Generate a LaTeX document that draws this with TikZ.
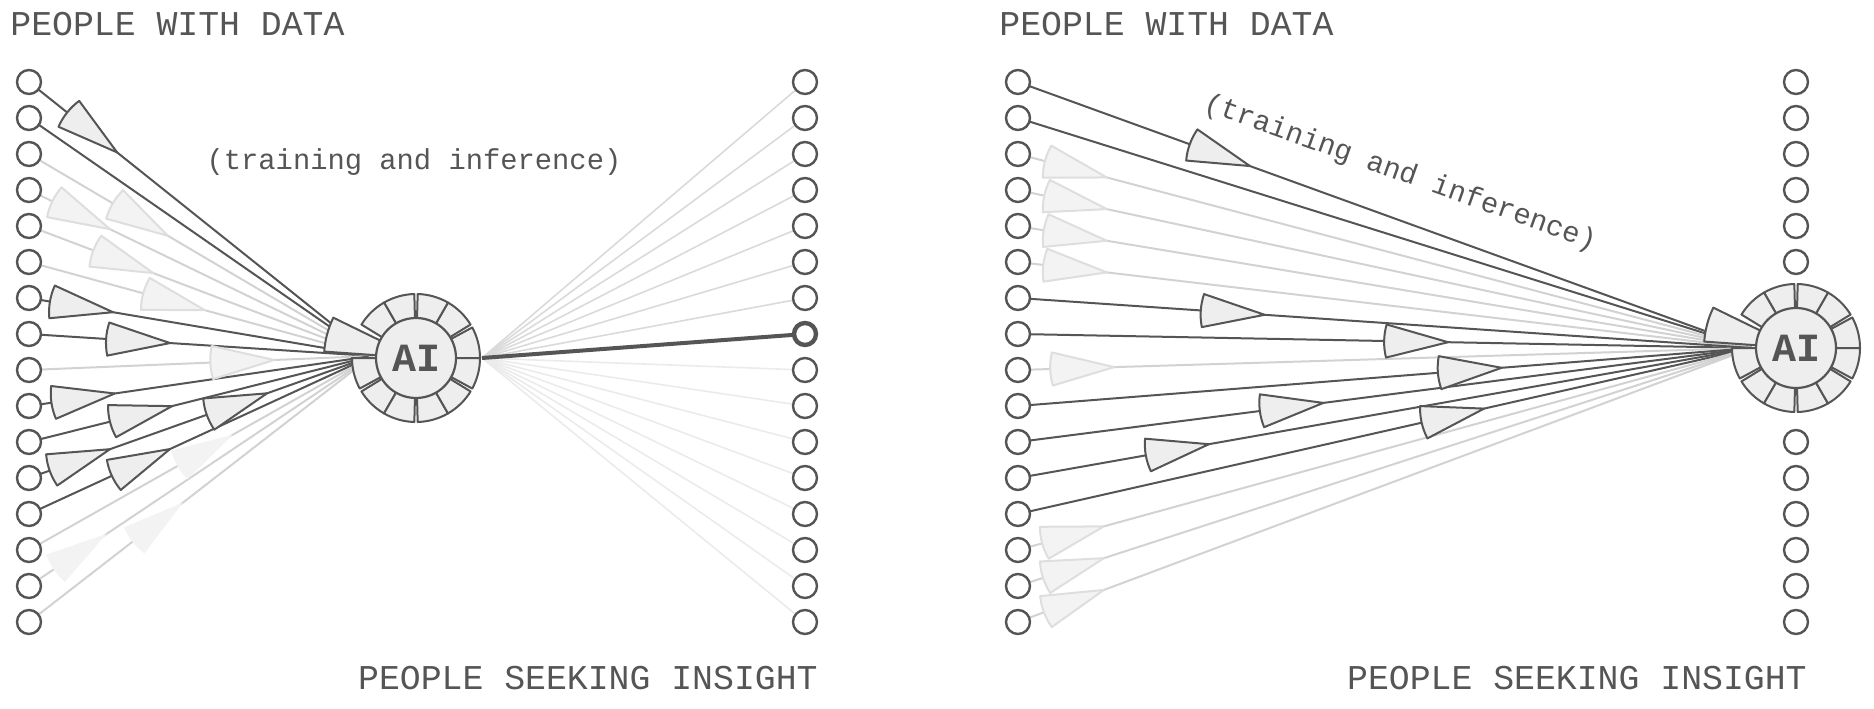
\documentclass[tikz,border=0pt]{standalone}
\usepackage{fontspec}
\setmonofont{Liberation Mono}
\usepackage{tikz}
\usetikzlibrary{backgrounds}
\usetikzlibrary{decorations.markings}

\definecolor{ink}{HTML}{555555}
\definecolor{shade}{HTML}{EEEEEE}
\definecolor{faint}{HTML}{D2D2D2}
\definecolor{mist}{HTML}{DADADA}
\definecolor{haze}{HTML}{EBEBEB}
\definecolor{ghostfill}{HTML}{F3F3F3}
\definecolor{ghostline}{HTML}{DEDEDE}

\begin{document}
\begin{tikzpicture}[
    x=0.5pt, y=0.5pt,
    person/.style={
        circle, draw=ink, fill=white,
        line width=1.2pt,
        minimum size=12pt, inner sep=0pt
    },
    core/.style={
        circle, draw=ink, fill=shade,
        line width=1.1pt,
        minimum size=40pt, inner sep=0pt,
        text=ink, font=\ttfamily\bfseries\fontsize{20}{20}\selectfont
    },
    slice/.style={draw=ink, fill=shade, line width=1pt, line join=round},
    heading/.style={text=ink, inner sep=0pt, font=\ttfamily\fontsize{17.4}{20}\selectfont},
    remark/.style={text=ink, inner sep=0pt, font=\ttfamily\fontsize{14.4}{16}\selectfont},
    pkt/.style={postaction={decorate, decoration={markings,
        mark=at position #1 with {\filldraw[slice] (0,0) -- (165:64) arc[start angle=165, end angle=195, radius=64] -- cycle;}}}},
    ghostpkt/.style={postaction={decorate, decoration={markings,
        mark=at position #1 with {\filldraw[draw=ghostline, fill=ghostfill, line width=1pt, line join=round] (0,0) -- (165:64) arc[start angle=165, end angle=195, radius=64] -- cycle;}}}},
    fadedpkt/.style={postaction={decorate, decoration={markings,
        mark=at position #1 with {\fill[ghostfill] (0,0) -- (165:64) arc[start angle=165, end angle=195, radius=64] -- cycle;}}}}
]
\useasboundingbox (0,0) rectangle (1874,708);

% hubs and where the lines meet them
\coordinate (hubL) at (416,350);
\coordinate (hubR) at (1796,360);
\coordinate (inL) at (372,352);
\coordinate (inR) at (1752,360);
\coordinate (outL) at (482,350);

% people
\foreach \i in {1,...,16} {
    \node[person] (pl\i) at (29,{626-36*(\i-1)}) {};
    \node[person] (pr\i) at (1018,{626-36*(\i-1)}) {};
}
\foreach \i in {1,2,3,4,5,6,7,9,10,11,12,13,14,15,16}
    \node[person] (ql\i) at (805,{626-36*(\i-1)}) {};
\node[person, line width=2.2pt, minimum size=11pt] (ql8) at (805,374) {};
\foreach \i in {1,2,3,4,5,6,11,12,13,14,15,16}
    \node[person] (qr\i) at (1796,{626-36*(\i-1)}) {};

% the two AI hubs
\foreach \h in {hubL,hubR} {
    \foreach \a/\b in {0/28.5, 31.5/60, 60/88.5, 91.5/120, 120/148.5, 180/208.5, 211.5/240, 240/268.5, 271.5/300, 300/328.5, 331.5/360}
        \filldraw[slice] (\h) -- ++(\a:64) arc[start angle=\a, end angle=\b, radius=64] -- cycle;
    \filldraw[slice] (\h) -- ++(154:92) arc[start angle=154, end angle=176, radius=92] -- cycle;
}
\node[core] (aiL) at (hubL) {AI};
\node[core] (aiR) at (hubR) {AI};

% labels
\node[heading, anchor=west] (haveL) at (10,684) {PEOPLE WITH DATA};
\node[heading, anchor=west] (haveR) at (999,684) {PEOPLE WITH DATA};
\node[heading, anchor=east] (seekL) at (818,30) {PEOPLE SEEKING INSIGHT};
\node[heading, anchor=east] (seekR) at (1807,30) {PEOPLE SEEKING INSIGHT};
\node[remark] (tagL) at (414,546) {(training and inference)};
\node[remark, rotate=-19.7] (tagR) at (1400,535) {(training and inference)};

\begin{scope}[on background layer]
% data going in
\foreach \i/\c in {1/ink,2/ink,3/faint,4/faint,5/faint,6/faint,7/ink,8/ink,9/faint,10/ink,11/ink,12/ink,13/ink,14/faint,15/faint,16/faint} {
    \draw[draw=\c, line width=1pt] (pl\i.center) -- (inL);
    \draw[draw=\c, line width=1pt] (pr\i.center) -- (inR);
}
\foreach \i/\t in {1/0.257,7/0.245,8/0.411,10/0.25,11/0.417,12/0.236,12/0.694,13/0.411}
    \path[pkt=\t] (pl\i.center) -- (inL);
\foreach \i/\t in {3/0.405,4/0.236,5/0.362,6/0.513,9/0.715}
    \path[ghostpkt=\t] (pl\i.center) -- (inL);
\foreach \i/\t in {14/0.595,15/0.227,16/0.449}
    \path[fadedpkt=\t] (pl\i.center) -- (inL);
\foreach \i/\t in {1/0.316,7/0.336,8/0.586,10/0.659,11/0.416,12/0.26,13/0.635}
    \path[pkt=\t] (pr\i.center) -- (inR);
\foreach \i/\t in {3/0.121,4/0.121,5/0.121,6/0.121,9/0.131,14/0.117,15/0.117,16/0.117}
    \path[ghostpkt=\t] (pr\i.center) -- (inR);

% answers going out
\foreach \i in {1,...,7}
    \draw[mist, line width=0.8pt] (outL) -- (ql\i.center);
\foreach \i in {9,...,16}
    \draw[haze, line width=0.8pt] (outL) -- (ql\i.center);
\draw[ink, line width=2pt] (outL) -- (ql8.center);
\end{scope}
\end{tikzpicture}
\end{document}
